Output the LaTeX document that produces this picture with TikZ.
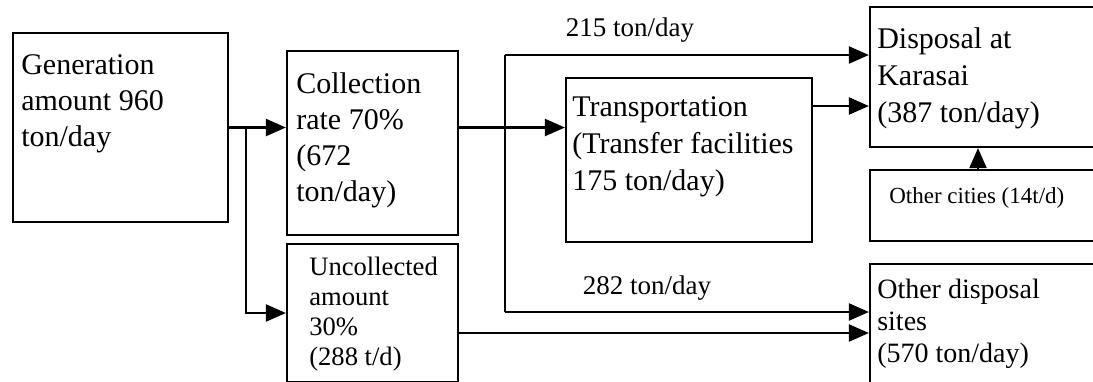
\documentclass[tikz,border=0pt]{standalone}
\usepackage{fontspec}
\setmainfont{Liberation Serif}
\usetikzlibrary{arrows.meta,calc}

\begin{document}
\begin{tikzpicture}[x=0.5pt,y=-0.5pt,
    box/.style={draw, line width=1.1pt, inner sep=0pt},
    txt/.style={anchor=north west, inner sep=0pt, align=left, font=\fontsize{15}{18}\selectfont},
    flowlbl/.style={inner sep=0pt, font=\fontsize{13.5}{16}\selectfont},
    conn/.style={line width=1.1pt},
    flow/.style={conn, -{Triangle[length=10pt,width=8.5pt]}}]
  \useasboundingbox (0,0) rectangle (1093,381);
  \clip (0,0) rectangle (1093,381);

  % boxes (right and bottom edges run off the page)
  \node[box, minimum width=107.5pt, minimum height=94.5pt] (gen) at (120.5,127.5) {};
  \node[box, minimum width=85.5pt, minimum height=92pt] (coll) at (372.5,143) {};
  \node[box, minimum width=85.5pt, minimum height=69pt] (uncoll) at (372.5,313) {};
  \node[box, minimum width=123pt, minimum height=82pt] (trans) at (689,160) {};
  \node[box, minimum width=120pt, minimum height=70pt] (kar) at (990,77) {};
  \node[box, minimum width=120pt, minimum height=35.5pt] (othc) at (990,205.5) {};
  \node[box, minimum width=120pt, minimum height=69pt] (odisp) at (990,333) {};

  % box texts
  \node[txt] (gentxt) at ([shift={(9,22)}]gen.north west) {Generation\\amount 960\\ton/day};
  \node[txt] (colltxt) at ([shift={(10,22)}]coll.north west) {Collection\\rate 70\%\\(672\\ton/day)};
  \node[txt, font=\fontsize{13.3}{15}\selectfont] (uncolltxt) at ([shift={(23,14)}]uncoll.north west) {Uncollected\\amount\\30\%\\(288 t/d)};
  \node[txt, font=\fontsize{15}{18.5}\selectfont] (transtxt) at ([shift={(7,19)}]trans.north west) {Transportation\\(Transfer facilities\\175 ton/day)};
  \node[txt, font=\fontsize{15}{18.5}\selectfont] (kartxt) at ([shift={(8,21)}]kar.north west) {Disposal at\\Karasai\\(387 ton/day)};
  \node[txt, font=\fontsize{11.5}{13}\selectfont] (othctxt) at ([shift={(20,18)}]othc.north west) {Other cities (14t/d)};
  \node[txt, font=\fontsize{14}{16}\selectfont] (odisptxt) at ([shift={(8,16)}]odisp.north west) {Other disposal\\sites\\(570 ton/day)};

  % split after generation
  \coordinate (br) at ($(gen.east)+(17,0)$);
  \draw[flow] (gen.east) -- (gen.east -| coll.west);
  \draw[flow] (br) |- (uncoll.west);

  % collection to transport, and the bypass lines
  \draw[flow] (coll.east |- gen.east) -- (trans.west |- gen.east);
  \coordinate (jtop) at (505,55);
  \coordinate (jbot) at (505,312);
  \draw[conn] (jtop) -- (jbot);
  \draw[flow] (jtop) -- (jtop -| kar.west);
  \draw[flow] (jbot) -- (jbot -| odisp.west);
  \node[flowlbl] (l215) at (630,30) {215 ton/day};
  \node[flowlbl] (l282) at (647,288) {282 ton/day};

  % into the disposal sites
  \coordinate (t1) at ($(trans.east)+(0,-54)$);
  \draw[flow] (t1) -- (t1 -| kar.west);
  \coordinate (oc) at ($(othc.north)+(-12,0)$);
  \draw[flow] (oc) -- (oc |- kar.south);
  \draw[flow] (uncoll.east |- odisp.west) -- (odisp.west);
\end{tikzpicture}
\end{document}
